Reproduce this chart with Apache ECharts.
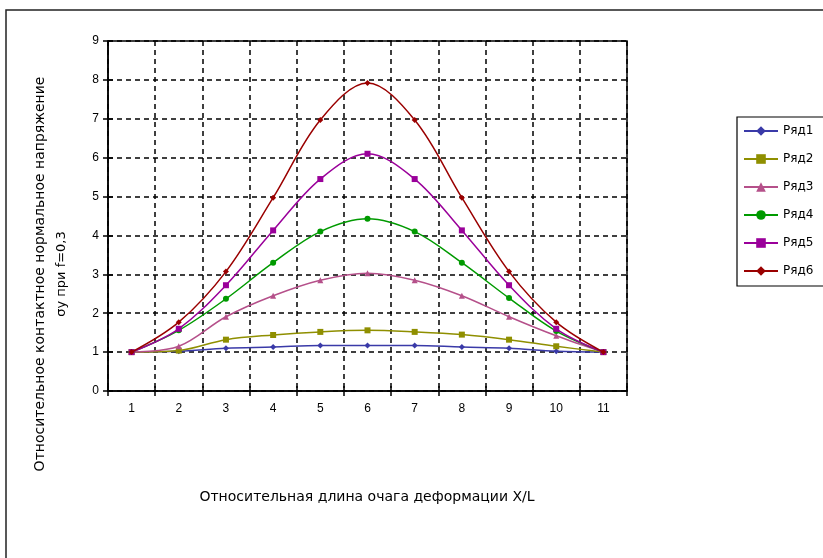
<!DOCTYPE html>
<html><head><meta charset="utf-8">
<script src="https://cdn.jsdelivr.net/npm/echarts@6/dist/echarts.min.js"></script>
<style>html,body{margin:0;padding:0;background:#fff}#c{width:823px;height:558px}</style>
</head><body><div id="c"></div>
<script>
const categories = ['1','2','3','4','5','6','7','8','9','10','11'];
const seriesNames = ['Ряд1','Ряд2','Ряд3','Ряд4','Ряд5','Ряд6'];
const row1 = [1, 1.02, 1.1, 1.13, 1.17, 1.17, 1.17, 1.13, 1.1, 1.02, 1];
const row2 = [1, 1.04, 1.32, 1.44, 1.52, 1.56, 1.52, 1.45, 1.32, 1.15, 1];
const row3 = [1, 1.15, 1.91, 2.45, 2.85, 3.03, 2.85, 2.45, 1.91, 1.42, 1];
const row4 = [1, 1.56, 2.37, 3.3, 4.1, 4.43, 4.1, 3.3, 2.39, 1.54, 1];
const row5 = [1, 1.6, 2.72, 4.13, 5.45, 6.1, 5.45, 4.13, 2.72, 1.6, 1];
const row6 = [1, 1.77, 3.07, 4.97, 6.97, 7.92, 6.97, 4.97, 3.07, 1.77, 1];
const yTicks = [0,1,2,3,4,5,6,7,8,9];
const xTitle = 'Относительная длина очага деформации X/L';
const yTitle1 = 'Относительное контактное нормальное напряжение';
const yTitle2 = 'σy при f=0,3';

const values = [row1,row2,row3,row4,row5,row6];
const colors = ['#3a3aa8','#8f8f00','#b5508a','#009a00','#9a009a','#9a0000'];
const symbols = ['diamond','rect','triangle','circle','rect','diamond'];
const font = 'Liberation Sans, Arial, sans-serif';
const wide = 'DejaVu Sans, sans-serif';

const chart = echarts.init(document.getElementById('c'));
const dash = {color:'#000', width:1.5, type:[5,4]};
chart.setOption({
  animation:false,
  backgroundColor:'#fff',
  textStyle:{fontFamily:font},
  grid:{left:108, top:41, right:196, bottom:167, show:true, borderColor:'#000', borderWidth:1.5, backgroundColor:'transparent'},
  legend:{
    orient:'vertical', left:737, top:117, padding:[8,30,9,6],
    borderColor:'#000', borderWidth:1.2, itemGap:16, itemWidth:34, itemHeight:12,
    textStyle:{fontSize:12, color:'#000', fontFamily:wide},
    data:seriesNames
  },
  xAxis:[{
    type:'category', data:categories, boundaryGap:true,
    axisLine:{lineStyle:{color:'#000', width:1.5}},
    axisTick:{show:true, interval:0, length:5, lineStyle:{color:'#000', width:1.5}},
    axisLabel:{color:'#000', fontSize:12, margin:12, fontFamily:font},
    splitLine:{show:true, interval:0, lineStyle:dash}
  },{
    type:'category', data:categories, boundaryGap:true, position:'bottom',
    axisLine:{show:false},
    axisTick:{show:true, inside:true, interval:0, length:5, lineStyle:{color:'#000', width:1.5}},
    axisLabel:{show:false}, splitLine:{show:false}
  }],
  yAxis:[{
    type:'value', min:0, max:9, interval:1,
    axisLine:{show:true, lineStyle:{color:'#000', width:1.5}},
    axisTick:{show:true, length:5, lineStyle:{color:'#000', width:1.5}},
    axisLabel:{color:'#000', fontSize:12, margin:9, fontFamily:font,
      formatter:v=>yTicks.includes(v)?String(v):''},
    splitLine:{show:true, lineStyle:dash}
  },{
    type:'value', min:0, max:9, interval:1, position:'left',
    axisLine:{show:false},
    axisTick:{show:true, inside:true, length:5, lineStyle:{color:'#000', width:1.5}},
    axisLabel:{show:false}, splitLine:{show:false}
  }],
  series: values.map((d,i)=>({
    name:seriesNames[i], type:'line', data:d, smooth:0.35,
    symbol:symbols[i], symbolSize:6, showSymbol:true,
    itemStyle:{color:colors[i]},
    lineStyle:{color:colors[i], width:1.5},
    z:2+i
  })),
  graphic:[
    {type:'rect', shape:{x:6, y:10, width:900, height:700}, style:{fill:'none', stroke:'#222', lineWidth:1.5}, silent:true},
    {type:'text', x:367, y:497, style:{text:xTitle, font:'14px '+wide, fill:'#000', textAlign:'center', textVerticalAlign:'middle'}},
    {type:'text', x:40, y:274, rotation:Math.PI/2, style:{text:yTitle1, font:'14px '+wide, fill:'#000', textAlign:'center', textVerticalAlign:'middle'}},
    {type:'text', x:62, y:274, rotation:Math.PI/2, style:{text:yTitle2, font:'13px '+wide, fill:'#000', textAlign:'center', textVerticalAlign:'middle'}}
  ]
});
</script></body></html>
